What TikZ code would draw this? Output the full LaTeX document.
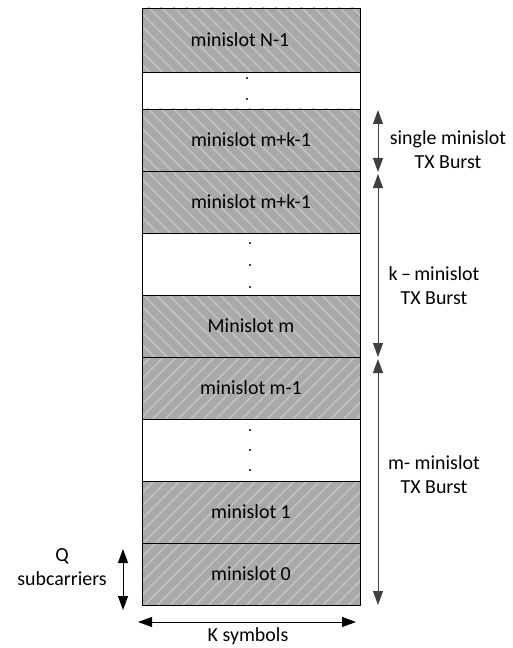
\documentclass[tikz,border=0pt]{standalone}
\usepackage{fontspec}
\setmainfont{Carlito}
\usetikzlibrary{patterns.meta,arrows.meta}
\definecolor{slotgray}{HTML}{A9A9A9}
\definecolor{stripe}{HTML}{C2C2C2}
\tikzset{
  slotbase/.style={draw=black, line width=0.9bp, minimum width=218bp, minimum height=62bp, inner sep=0pt, outer sep=0pt, font=\fontsize{20}{24}\selectfont},
  hatchA/.style={slotbase, preaction={fill=slotgray}, preaction={pattern={Lines[angle=-45,distance=9bp,line width=1.6bp]}, pattern color=stripe}},
  hatchB/.style={slotbase, preaction={fill=slotgray}, preaction={pattern={Lines[angle=45,distance=9bp,line width=1.6bp]}, pattern color=stripe}},
  blankslot/.style={slotbase, fill=white},
  dotmark/.style={circle, fill=black, inner sep=0pt, minimum size=2.2bp},
  dimarrow/.style={{Triangle[length=14bp,width=10bp]}-{Triangle[length=14bp,width=10bp]}, line width=0.9bp, draw=black!75},
  lbl/.style={font=\fontsize{20}{24}\selectfont, align=center, inner sep=0pt}
}
\begin{document}
\begin{tikzpicture}[x=1bp,y=-1bp]
\useasboundingbox (0,0) rectangle (513,648);
% slots
\node[hatchA, minimum height=64bp] (sN) at (251,40) {\hspace*{-22bp}minislot N-1};
\node[blankslot, minimum height=37bp] (w1) at (251,90.5) {};
\node[hatchA] (smk1) at (251,140) {minislot m+k-1};
\node[hatchA] (smk2) at (251,202) {minislot m+k-1};
\node[blankslot] (w2) at (251,264) {};
\node[hatchA] (sm) at (251,326) {Minislot m};
\node[hatchB] (sm1) at (251,388) {minislot m-1};
\node[blankslot] (w3) at (251,450) {};
\node[hatchB] (s1) at (251,512) {minislot 1};
\node[hatchB] (s0) at (251,574) {minislot 0};
% dots
\node[dotmark] (d1) at (247,78) {};
\node[dotmark] (d2) at (247,99) {};
\node[dotmark] (d3) at (250,243) {};
\node[dotmark] (d4) at (250,265) {};
\node[dotmark] (d5) at (250,287) {};
\node[dotmark] (d6) at (250,430) {};
\node[dotmark] (d7) at (250,450) {};
\node[dotmark] (d8) at (250,470) {};
% right dimension arrows
\coordinate (a1) at (378,110);
\coordinate (a2) at (378,172);
\coordinate (a3) at (378,174);
\coordinate (a4) at (378,357);
\coordinate (a5) at (378,359);
\coordinate (a6) at (378,605);
\draw[dimarrow] (a1) -- (a2);
\draw[dimarrow] (a3) -- (a4);
\draw[dimarrow] (a5) -- (a6);
\node[lbl] (l1) at (448,150) {single minislot\\TX Burst};
\node[lbl] (l2) at (434,286) {k\,–\,minislot\\TX Burst};
\node[lbl] (l3) at (434,475) {m- minislot\\TX Burst};
% Q arrow
\coordinate (q1) at (123,549);
\coordinate (q2) at (123,610);
\draw[dimarrow, draw=black] (q1) -- (q2);
\node[lbl] (lq) at (62,567) {Q\\subcarriers};
% K arrow
\coordinate (k1) at (138,622);
\coordinate (k2) at (356,622);
\draw[dimarrow, draw=black] (k1) -- (k2);
\node[lbl] (lk) at (248,636.5) {K symbols};
\end{tikzpicture}
\end{document}
